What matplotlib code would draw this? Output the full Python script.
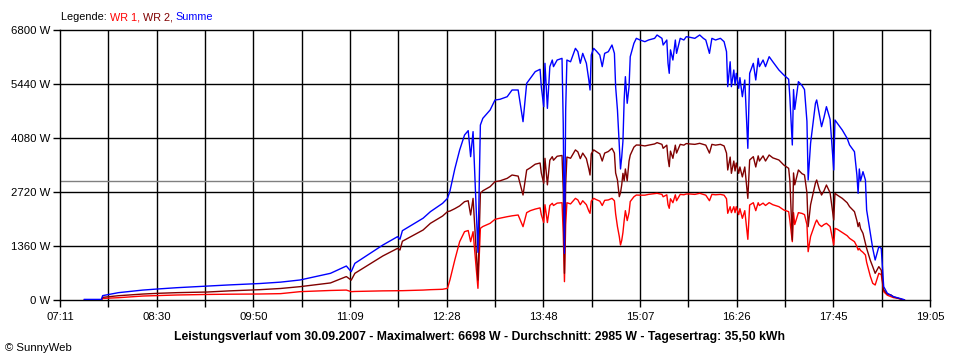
import matplotlib
matplotlib.use("Agg")
import matplotlib.pyplot as plt
import numpy as np

# ---------------- data ----------------
times = ["07:31","07:45","07:46","07:59","08:19","08:31","08:47","09:12","09:30","09:55",
         "10:12","10:28","10:53","11:06","11:10","11:13","11:36","11:48","11:50","11:52",
         "12:09","12:15","12:25","12:29","12:31","12:35","12:39","12:43","12:46","12:48",
         "12:50","12:54","12:56","12:58","13:04","13:08","13:12","13:18","13:22","13:27",
         "13:31","13:34","13:37","13:41","13:45","13:46","13:48","13:49","13:51","13:53",
         "13:55","13:56","13:59","14:03","14:04","14:05","14:06","14:07","14:10","14:14",
         "14:16","14:18","14:20","14:23","14:25","14:26","14:27","14:29","14:31","14:34",
         "14:36","14:38","14:41","14:44","14:46","14:47","14:48:30","14:50","14:51","14:52",
         "14:53","14:54","14:55","14:56:30","14:58","14:59","15:02","15:04","15:07","15:11",
         "15:14","15:19","15:21","15:25","15:26","15:29","15:30","15:31","15:32","15:34",
         "15:36","15:37","15:40","15:43","15:45","15:48","15:52","15:56","15:59","16:01",
         "16:04","16:06","16:09","16:13","16:16","16:18","16:19","16:21","16:22","16:24",
         "16:25","16:26","16:28","16:29","16:31","16:33","16:35:30","16:37","16:40","16:42",
         "16:44","16:45","16:48","16:50","16:53","16:56","17:01","17:05","17:09","17:10",
         "17:12","17:13","17:14","17:17","17:20","17:22","17:24","17:25","17:27","17:31",
         "17:32","17:34","17:36","17:38","17:40","17:43","17:46","17:47","17:49","17:53",
         "17:57","17:59","18:03","18:05","18:06","18:07","18:08","18:10","18:12","18:13",
         "18:16","18:18","18:20","18:23","18:25","18:27","18:30","18:33","18:35","18:39",
         "18:43","18:44"]

wr1 = [0, 0, 40, 58, 100, 110, 126, 140, 146, 151,
       160, 210, 240, 250, 210, 215, 230, 235, 235, 235,
       250, 260, 270, 294, 504, 1007, 1469, 1721, 1750, 1469,
       1721, 294, 1805, 1850, 1931, 2032, 2060, 2098, 2120, 2141,
       1847, 2200, 2250, 2290, 2320, 2150, 1950, 2400, 1950, 2380,
       2435, 2380, 2440, 2450, 1679, 462, 1900, 2450, 2420, 2560,
       2520, 2400, 2500, 2400, 2240, 2183, 2490, 2560, 2530, 2490,
       2380, 2510, 2520, 2560, 2500, 2170, 1847, 1600, 1385, 1500,
       1700, 2000, 2250, 2000, 2200, 2480, 2600, 2644, 2640, 2640,
       2660, 2680, 2687, 2660, 2600, 2650, 2400, 2309, 2550, 2450,
       2650, 2500, 2660, 2650, 2670, 2670, 2660, 2687, 2660, 2640,
       2500, 2660, 2650, 2660, 2640, 2550, 2183, 2350, 2200, 2350,
       2200, 2350, 2150, 2300, 2057, 2250, 1528, 2393, 2450, 2250,
       2450, 2380, 2440, 2380, 2452, 2400, 2351, 2267, 2225, 2000,
       1469, 2200, 1900, 2200, 2180, 2150, 1900, 1217, 1600, 1950,
       2015, 1900, 1850, 1900, 1931, 1850, 1385, 1805, 1780, 1700,
       1620, 1553, 1469, 1350, 1259, 1300, 1250, 1200, 1133, 950,
       600, 420, 378, 672, 640, 210, 120, 84, 60, 42,
       0, 0]

wr2 = [0, 0, 67, 108, 150, 168, 185, 201, 230, 260,
       290, 336, 430, 590, 500, 672, 1110, 1300, 1259, 1480,
       1763, 1931, 2115, 2225, 2240, 2300, 2370, 2476, 2500, 2141,
       2560, 504, 2687, 2750, 2855, 2980, 3000, 3064, 3148, 3120,
       2644, 3274, 3330, 3420, 3450, 3200, 2939, 3568, 2900, 3520,
       3610, 3520, 3620, 3640, 2770, 672, 2900, 3600, 3570, 3780,
       3730, 3560, 3700, 3560, 3300, 3148, 3680, 3780, 3740, 3680,
       3500, 3700, 3740, 3820, 3700, 3200, 3022, 2602, 2700, 2900,
       3190, 3000, 3300, 3000, 3500, 3650, 3850, 3904, 3900, 3880,
       3900, 3930, 3963, 3920, 3820, 3900, 3560, 3358, 3750, 3568,
       3900, 3700, 3920, 3900, 3940, 3930, 3920, 3946, 3920, 3900,
       3700, 3920, 3900, 3920, 3880, 3700, 3274, 3600, 3190, 3500,
       3250, 3450, 3190, 3350, 3100, 3350, 2560, 3526, 3610, 3350,
       3630, 3500, 3630, 3500, 3652, 3580, 3526, 3400, 3316, 3000,
       1511, 3200, 2900, 3274, 3180, 3150, 2700, 1847, 2400, 2950,
       3022, 2800, 2644, 2750, 2896, 2700, 2015, 2687, 2640, 2560,
       2450, 2351, 2225, 2000, 1847, 1950, 1800, 1679, 1427, 1300,
       1000, 840, 672, 840, 750, 252, 150, 126, 80, 42,
       0, 0]

summe = [15, 15, 110, 185, 250, 277, 310, 350, 380, 415,
         450, 504, 672, 856, 713, 923, 1385, 1595, 1530, 1746,
         2060, 2225, 2435, 2560, 2740, 3300, 3778, 4155, 4265, 3610,
         4240, 1200, 4407, 4575, 4785, 5037, 5054, 5120, 5289, 5289,
         4491, 5457, 5583, 5751, 5810, 5373, 4869, 5961, 4827, 5877,
         6044, 5877, 6044, 6086, 4450, 1175, 4785, 6044, 6000, 6338,
         6254, 5961, 6212, 5961, 5541, 5289, 6170, 6338, 6276, 6170,
         5877, 6212, 6254, 6422, 6212, 5373, 4785, 3861, 3300, 3600,
         4000, 5037, 5625, 4954, 5373, 6128, 6464, 6590, 6548, 6506,
         6548, 6590, 6674, 6590, 6422, 6548, 5961, 5709, 6300, 6044,
         6548, 6212, 6590, 6548, 6632, 6616, 6590, 6674, 6590, 6548,
         6212, 6590, 6548, 6590, 6506, 6254, 5373, 6000, 5373, 5793,
         5415, 5709, 5331, 5600, 5120, 5541, 3820, 5709, 5961, 5541,
         6086, 5877, 6044, 5877, 6128, 6000, 5793, 5667, 5560, 5100,
         3904, 5300, 4800, 5499, 5400, 5300, 4500, 3022, 3950, 4954,
         5038, 4700, 4365, 4600, 4869, 4550, 3274, 4533, 4450, 4281,
         4072, 3904, 3735, 3148, 2687, 3300, 3000, 3232, 3022, 2267,
         1679, 1300, 1007, 1343, 1300, 336, 168, 120, 84, 50,
         17, 0]

durchschnitt = 2985
y_ticks = [0, 1360, 2720, 4080, 5440, 6800]
y_labels = ["0 W", "1360 W", "2720 W", "4080 W", "5440 W", "6800 W"]
x_labels = ["07:11", "08:30", "09:50", "11:09", "12:28", "13:48", "15:07", "16:26", "17:45", "19:05"]
x_start, x_end = "07:11", "19:05"
title = ("Leistungsverlauf vom 30.09.2007 - Maximalwert: 6698 W - "
         "Durchschnitt: 2985 W - Tagesertrag: 35,50 kWh")

assert len(times) == len(wr1) == len(wr2) == len(summe)


def to_min(s):
    parts = [int(p) for p in s.split(":")]
    m = parts[0] * 60 + parts[1]
    if len(parts) > 2:
        m += parts[2] / 60.0
    return m


t = np.array([to_min(s) for s in times], dtype=float)
x0, x1 = to_min(x_start), to_min(x_end)

plt.rcParams['font.family'] = ['Liberation Sans', 'DejaVu Sans']

fig = plt.figure(figsize=(9.6, 3.6), dpi=100)
W, H = 960, 360
ax = fig.add_axes([60 / W, 1 - 300 / H, 870 / W, 270 / H])

ax.set_xlim(x0, x1)
ax.set_ylim(0, 6800)

xgrid = np.linspace(x0, x1, 19)
for xv in xgrid[1:-1]:
    ax.axvline(xv, color="black", lw=1.0, zorder=1)
for yv in y_ticks[1:-1]:
    ax.axhline(yv, color="black", lw=1.0, zorder=1)
ax.axhline(durchschnitt, color="#808080", lw=1.0, zorder=1.5)

ax.plot(t, wr1, color="#FF0000", lw=1.0, zorder=3)
ax.plot(t, wr2, color="#800000", lw=1.0, zorder=4)
ax.plot(t, summe, color="#0000FF", lw=1.0, zorder=5)

ax.set_xticks(xgrid)
ax.set_xticklabels([x_labels[i // 2] if i % 2 == 0 else "" for i in range(len(xgrid))])
ax.set_yticks(y_ticks)
ax.set_yticklabels(y_labels)
ax.tick_params(axis="both", direction="out", length=5, width=1, color="black",
               labelsize=8.2)
ax.tick_params(axis="y", pad=2.2)
ax.tick_params(axis="x", pad=4)
for sp in ax.spines.values():
    sp.set_linewidth(1.0)
    sp.set_color("black")

fig.text(479 / W, 1 - 337 / H, title, ha="center", va="center",
         fontsize=8.8, fontweight="bold", color="black")
fig.text(5 / W, 1 - 348 / H, "\u00a9 SunnyWeb", ha="left", va="center",
         fontsize=8.2, color="black")

# legend as coloured text pieces
fig.canvas.draw()
renderer = fig.canvas.get_renderer()
parts = [("Legende: ", "black"), ("WR 1, ", "#FF0000"), ("WR 2, ", "#800000"), ("Summe", "#0000FF")]
xpix = 61
for txt, col in parts:
    tt = fig.text(xpix / W, 1 - 17 / H, txt, ha="left", va="center", fontsize=7.8, color=col)
    bb = tt.get_window_extent(renderer=renderer)
    xpix += bb.width

fig.savefig("out.png", dpi=100)
